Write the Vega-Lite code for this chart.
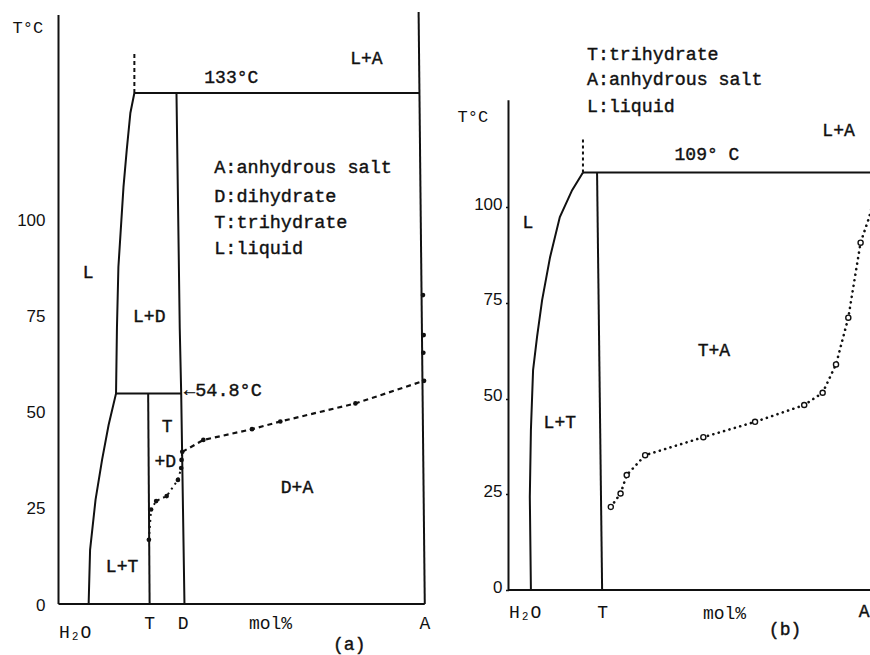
{
  "$schema": "https://vega.github.io/schema/vega-lite/v6.json",
  "width": 870,
  "height": 655,
  "autosize": {"type": "fit", "contains": "padding"},
  "padding": 0,
  "background": "white",
  "config": {
    "view": {"stroke": null},
    "axis": {"labelColor": "#111", "titleColor": "#111", "grid": false, "domain": false}
  },
  "datasets": {
    "a_lines": [
      {"seg": "axis", "o": 1, "x": 0, "T": 0}, {"seg": "axis", "o": 2, "x": 0, "T": 153.3},
      {"seg": "base", "o": 1, "x": 0, "T": 0}, {"seg": "base", "o": 2, "x": 100.9, "T": 0},
      {"seg": "A", "o": 1, "x": 99.2, "T": 154.1}, {"seg": "A", "o": 2, "x": 100.9, "T": 0},
      {"seg": "top", "o": 1, "x": 20.9, "T": 133}, {"seg": "top", "o": 2, "x": 99.4, "T": 133},
      {"seg": "liq", "o": 1, "x": 20.9, "T": 133}, {"seg": "liq", "o": 2, "x": 19.8, "T": 127.8},
      {"seg": "liq", "o": 3, "x": 18.8, "T": 118.2}, {"seg": "liq", "o": 4, "x": 17.9, "T": 108.5},
      {"seg": "liq", "o": 5, "x": 16.5, "T": 87.7}, {"seg": "liq", "o": 6, "x": 16.1, "T": 71.9},
      {"seg": "liq", "o": 7, "x": 15.85, "T": 54.8}, {"seg": "liq", "o": 8, "x": 13.8, "T": 46.6},
      {"seg": "liq", "o": 9, "x": 12.0, "T": 37.5}, {"seg": "liq", "o": 10, "x": 10.2, "T": 27.1},
      {"seg": "liq", "o": 11, "x": 8.7, "T": 14.1}, {"seg": "liq", "o": 12, "x": 8.3, "T": 0},
      {"seg": "D", "o": 1, "x": 32.5, "T": 133}, {"seg": "D", "o": 2, "x": 33.4, "T": 71.8},
      {"seg": "D", "o": 3, "x": 33.8, "T": 54.8}, {"seg": "D", "o": 4, "x": 34.7, "T": 0},
      {"seg": "peri", "o": 1, "x": 15.85, "T": 54.8}, {"seg": "peri", "o": 2, "x": 33.8, "T": 54.8},
      {"seg": "Tc", "o": 1, "x": 24.7, "T": 54.8}, {"seg": "Tc", "o": 2, "x": 25.1, "T": 0}
    ],
    "a_stub": [{"o": 1, "x": 20.9, "T": 133}, {"o": 2, "x": 20.9, "T": 143.7}],
    "a_dotted": [
      {"o": 1, "x": 24.9, "T": 16.7}, {"o": 2, "x": 25.5, "T": 24.6}, {"o": 3, "x": 26.9, "T": 26.8},
      {"o": 4, "x": 29.8, "T": 28.1}, {"o": 5, "x": 32.9, "T": 32.3}, {"o": 6, "x": 33.8, "T": 35.4},
      {"o": 7, "x": 33.9, "T": 37.5}, {"o": 8, "x": 34.1, "T": 39.6}
    ],
    "a_dashed": [
      {"o": 1, "x": 34.1, "T": 39.6}, {"o": 2, "x": 39.9, "T": 42.7}, {"o": 3, "x": 53.3, "T": 45.5},
      {"o": 4, "x": 61.1, "T": 47.5}, {"o": 5, "x": 81.8, "T": 52.2}, {"o": 6, "x": 100.7, "T": 58.1}
    ],
    "a_points": [
      {"x": 24.9, "T": 16.7}, {"x": 25.5, "T": 24.6}, {"x": 26.9, "T": 26.8}, {"x": 29.8, "T": 28.1},
      {"x": 32.9, "T": 32.3}, {"x": 33.8, "T": 35.4}, {"x": 33.9, "T": 37.5}, {"x": 34.1, "T": 39.6},
      {"x": 39.9, "T": 42.7}, {"x": 53.3, "T": 45.5}, {"x": 61.1, "T": 47.5}, {"x": 81.8, "T": 52.2},
      {"x": 100.7, "T": 58.1}, {"x": 100.4, "T": 80.4}, {"x": 100.6, "T": 70.0}, {"x": 100.5, "T": 65.4}
    ],
    "a_labels": [
      {"x": 47.6, "T": 136.8, "label": "133°C"},
      {"x": 84.8, "T": 141.9, "label": "L+A"},
      {"x": 8.2, "T": 86.2, "label": "L"},
      {"x": 25.0, "T": 74.7, "label": "L+D"},
      {"x": 29.9, "T": 46.1, "label": "T"},
      {"x": 29.4, "T": 37.0, "label": "+D"},
      {"x": 17.5, "T": 9.6, "label": "L+T"},
      {"x": 65.7, "T": 30.3, "label": "D+A"},
      {"x": 80.1, "T": -10.6, "label": "(a)"}
    ],
    "a_legend": [
      {"x": 42.9, "T": 113.8, "label": "A:anhydrous salt"},
      {"x": 42.9, "T": 106.3, "label": "D:dihydrate"},
      {"x": 42.9, "T": 99.5, "label": "T:trihydrate"},
      {"x": 42.9, "T": 92.6, "label": "L:liquid"},
      {"x": 34.6, "T": 55.7, "label": "←54.8°C"}
    ],
    "b_lines": [
      {"seg": "axis", "o": 1, "x": 0, "T": 0}, {"seg": "axis", "o": 2, "x": 0, "T": 127.9},
      {"seg": "base", "o": 1, "x": 0, "T": 0}, {"seg": "base", "o": 2, "x": 100, "T": 0},
      {"seg": "top", "o": 1, "x": 20.6, "T": 109}, {"seg": "top", "o": 2, "x": 100, "T": 109},
      {"seg": "liq", "o": 1, "x": 20.6, "T": 109}, {"seg": "liq", "o": 2, "x": 17.6, "T": 104.4},
      {"seg": "liq", "o": 3, "x": 14.2, "T": 97.4}, {"seg": "liq", "o": 4, "x": 11.5, "T": 86.9},
      {"seg": "liq", "o": 5, "x": 9.3, "T": 75.7}, {"seg": "liq", "o": 6, "x": 7.9, "T": 66.1},
      {"seg": "liq", "o": 7, "x": 6.8, "T": 57.4}, {"seg": "liq", "o": 8, "x": 6.2, "T": 41.8},
      {"seg": "liq", "o": 9, "x": 5.9, "T": 24.3}, {"seg": "liq", "o": 10, "x": 6.2, "T": 0},
      {"seg": "Tc", "o": 1, "x": 24.5, "T": 109}, {"seg": "Tc", "o": 2, "x": 25.9, "T": 0}
    ],
    "b_stub": [{"o": 1, "x": 20.6, "T": 109}, {"o": 2, "x": 20.6, "T": 118}],
    "b_curve": [
      {"o": 1, "x": 28.3, "T": 21.7, "m": 1}, {"o": 2, "x": 31.0, "T": 25.2, "m": 1},
      {"o": 3, "x": 32.7, "T": 30.0, "m": 1}, {"o": 4, "x": 37.8, "T": 35.2, "m": 1},
      {"o": 5, "x": 53.9, "T": 39.9, "m": 1}, {"o": 6, "x": 68.2, "T": 43.9, "m": 1},
      {"o": 7, "x": 81.8, "T": 48.3, "m": 1}, {"o": 8, "x": 86.9, "T": 51.5, "m": 1},
      {"o": 9, "x": 90.6, "T": 58.9, "m": 1}, {"o": 10, "x": 94.0, "T": 71.1, "m": 1},
      {"o": 11, "x": 97.4, "T": 90.7, "m": 1}, {"o": 12, "x": 99.7, "T": 97.1, "m": 0},
      {"o": 13, "x": 101.4, "T": 103.1, "m": 0}
    ],
    "b_labels": [
      {"x": 54.9, "T": 113.6, "label": "109° C"},
      {"x": 91.3, "T": 119.8, "label": "L+A"},
      {"x": 5.4, "T": 95.8, "label": "L"},
      {"x": 14.2, "T": 43.6, "label": "L+T"},
      {"x": 56.8, "T": 62.4, "label": "T+A"},
      {"x": 76.5, "T": -10.4, "label": "(b)"}
    ],
    "b_edge": [
      {"x": 99.9, "T": -5.7, "label": "A"}
    ],
    "b_legend": [
      {"x": 21.7, "T": 139.7, "label": "T:trihydrate"},
      {"x": 21.7, "T": 133.2, "label": "A:anhydrous salt"},
      {"x": 21.7, "T": 126.1, "label": "L:liquid"}
    ]
  },
  "layer": [
    {
      "encoding": {
        "x": {
          "field": "x", "type": "quantitative",
          "scale": {"domain": [-16.116, 223.55], "nice": false, "zero": false},
          "axis": {
            "orient": "bottom", "offset": -51, "domain": false, "ticks": false, "tickSize": 0, "grid": false,
            "values": [0, 25, 34.2, 100.8],
            "labelExpr": "datum.value == 0 ? 'H₂O' : datum.value == 25 ? 'T' : datum.value < 50 ? 'D' : 'A'",
            "labelFont": "Liberation Mono", "labelFontSize": 18, "labelPadding": 19,
            "labelOverlap": false, "labelFlush": false, "labelBound": false,
            "labelAlign": {"condition": {"test": "datum.value == 0", "value": "left"}, "value": "center"},
            "labelBaseline": {"condition": {"test": "datum.value == 0", "value": "top"}, "value": "middle"},
            "title": "mol%", "titleFont": "Liberation Mono", "titleFontSize": 18, "titleFontWeight": "normal",
            "titleX": 270, "titleY": 19, "titleAlign": "center", "titleBaseline": "middle", "titleAngle": 0
          }
        },
        "y": {
          "field": "T", "type": "quantitative",
          "scale": {"domain": [-13.274, 157.21], "nice": false, "zero": false},
          "axis": {
            "orient": "left", "offset": -58.5, "domain": false, "ticks": false, "grid": false,
            "values": [0, 25, 50, 75, 100],
            "labelFont": "Liberation Sans", "labelFontSize": 17, "labelPadding": 13.5, "labelOffset": 1,
            "labelBaseline": "middle",
            "title": "T°C", "titleFont": "Liberation Mono", "titleFontSize": 17, "titleFontWeight": "normal",
            "titleAngle": 0, "titleX": -46.5, "titleY": 27, "titleAlign": "left", "titleBaseline": "middle"
          }
        }
      },
      "layer": [
        {
          "data": {"name": "a_lines"},
          "mark": {"type": "line", "color": "#111", "strokeWidth": 2, "clip": true},
          "encoding": {"detail": {"field": "seg"}, "order": {"field": "o", "type": "quantitative"}}
        },
        {
          "data": {"name": "a_stub"},
          "mark": {"type": "line", "color": "#111", "strokeWidth": 2, "strokeDash": [4, 3], "clip": true},
          "encoding": {"order": {"field": "o", "type": "quantitative"}}
        },
        {
          "data": {"name": "a_dotted"},
          "mark": {"type": "line", "color": "#111", "strokeWidth": 2, "strokeDash": [2, 4], "clip": true},
          "encoding": {"order": {"field": "o", "type": "quantitative"}}
        },
        {
          "data": {"name": "a_dashed"},
          "mark": {"type": "line", "color": "#111", "strokeWidth": 2.2, "strokeDash": [5, 4], "clip": true},
          "encoding": {"order": {"field": "o", "type": "quantitative"}}
        },
        {
          "data": {"name": "a_points"},
          "mark": {"type": "point", "filled": true, "color": "#111", "size": 22, "opacity": 1, "clip": true}
        },
        {
          "data": {"name": "a_labels"},
          "mark": {"type": "text", "font": "Liberation Mono", "fontSize": 18, "color": "#111", "stroke": "#111", "strokeWidth": 0.4, "align": "center", "baseline": "middle", "clip": true},
          "encoding": {"text": {"field": "label"}}
        },
        {
          "data": {"name": "a_legend"},
          "mark": {"type": "text", "font": "Liberation Mono", "fontSize": 18.5, "color": "#111", "stroke": "#111", "strokeWidth": 0.4, "align": "left", "baseline": "middle", "clip": true},
          "encoding": {"text": {"field": "label"}}
        }
      ]
    },
    {
      "encoding": {
        "x": {
          "field": "x", "type": "quantitative",
          "scale": {"domain": [-140.66, 100], "nice": false, "zero": false},
          "axis": {
            "orient": "bottom", "offset": -65, "domain": false, "ticks": false, "tickSize": 0, "grid": false,
            "values": [0, 25.9],
            "labelExpr": "datum.value == 0 ? 'H₂O' : 'T'",
            "labelFont": "Liberation Mono", "labelFontSize": 18, "labelPadding": 22,
            "labelOverlap": false, "labelFlush": false, "labelBound": false,
            "labelAlign": {"condition": {"test": "datum.value == 0", "value": "left"}, "value": "center"},
            "labelBaseline": "middle",
            "title": "mol%", "titleFont": "Liberation Mono", "titleFontSize": 18, "titleFontWeight": "normal",
            "titleX": 724, "titleY": 23, "titleAlign": "center", "titleBaseline": "middle", "titleAngle": 0
          }
        },
        "y": {
          "field": "T", "type": "quantitative",
          "scale": {"domain": [-16.97, 154.05], "nice": false, "zero": false},
          "axis": {
            "orient": "left", "offset": -508.5, "domain": false, "ticks": true, "tickSize": 3, "tickWidth": 1.5,
            "tickColor": "#111", "grid": false,
            "values": [0, 25, 50, 75, 100],
            "labelFont": "Liberation Sans", "labelFontSize": 17, "labelPadding": 3.5, "labelOffset": -3,
            "labelBaseline": "middle",
            "title": "T°C", "titleFont": "Liberation Mono", "titleFontSize": 17, "titleFontWeight": "normal",
            "titleAngle": 0, "titleX": -51.5, "titleY": 116, "titleAlign": "left", "titleBaseline": "middle"
          }
        }
      },
      "layer": [
        {
          "data": {"name": "b_lines"},
          "mark": {"type": "line", "color": "#111", "strokeWidth": 2, "clip": true},
          "encoding": {"detail": {"field": "seg"}, "order": {"field": "o", "type": "quantitative"}}
        },
        {
          "data": {"name": "b_stub"},
          "mark": {"type": "line", "color": "#111", "strokeWidth": 2, "strokeDash": [3, 3], "clip": true},
          "encoding": {"order": {"field": "o", "type": "quantitative"}}
        },
        {
          "data": {"name": "b_curve"},
          "mark": {"type": "line", "color": "#111", "strokeWidth": 2.6, "strokeDash": [0.1, 5.5], "strokeCap": "round", "clip": true},
          "encoding": {"order": {"field": "o", "type": "quantitative"}}
        },
        {
          "data": {"name": "b_curve"},
          "transform": [{"filter": "datum.m == 1"}],
          "mark": {"type": "point", "filled": false, "fill": "white", "color": "#111", "size": 26, "strokeWidth": 1.4, "opacity": 1, "clip": true}
        },
        {
          "data": {"name": "b_labels"},
          "mark": {"type": "text", "font": "Liberation Mono", "fontSize": 18, "color": "#111", "stroke": "#111", "strokeWidth": 0.4, "align": "center", "baseline": "middle", "clip": true},
          "encoding": {"text": {"field": "label"}}
        },
        {
          "data": {"name": "b_edge"},
          "mark": {"type": "text", "font": "Liberation Mono", "fontSize": 18, "color": "#111", "stroke": "#111", "strokeWidth": 0.4, "align": "right", "baseline": "middle", "clip": true},
          "encoding": {"text": {"field": "label"}}
        },
        {
          "data": {"name": "b_legend"},
          "mark": {"type": "text", "font": "Liberation Mono", "fontSize": 18.3, "color": "#111", "stroke": "#111", "strokeWidth": 0.4, "align": "left", "baseline": "middle", "clip": true},
          "encoding": {"text": {"field": "label"}}
        }
      ]
    }
  ],
  "resolve": {
    "scale": {"x": "independent", "y": "independent"},
    "axis": {"x": "independent", "y": "independent"}
  }
}
